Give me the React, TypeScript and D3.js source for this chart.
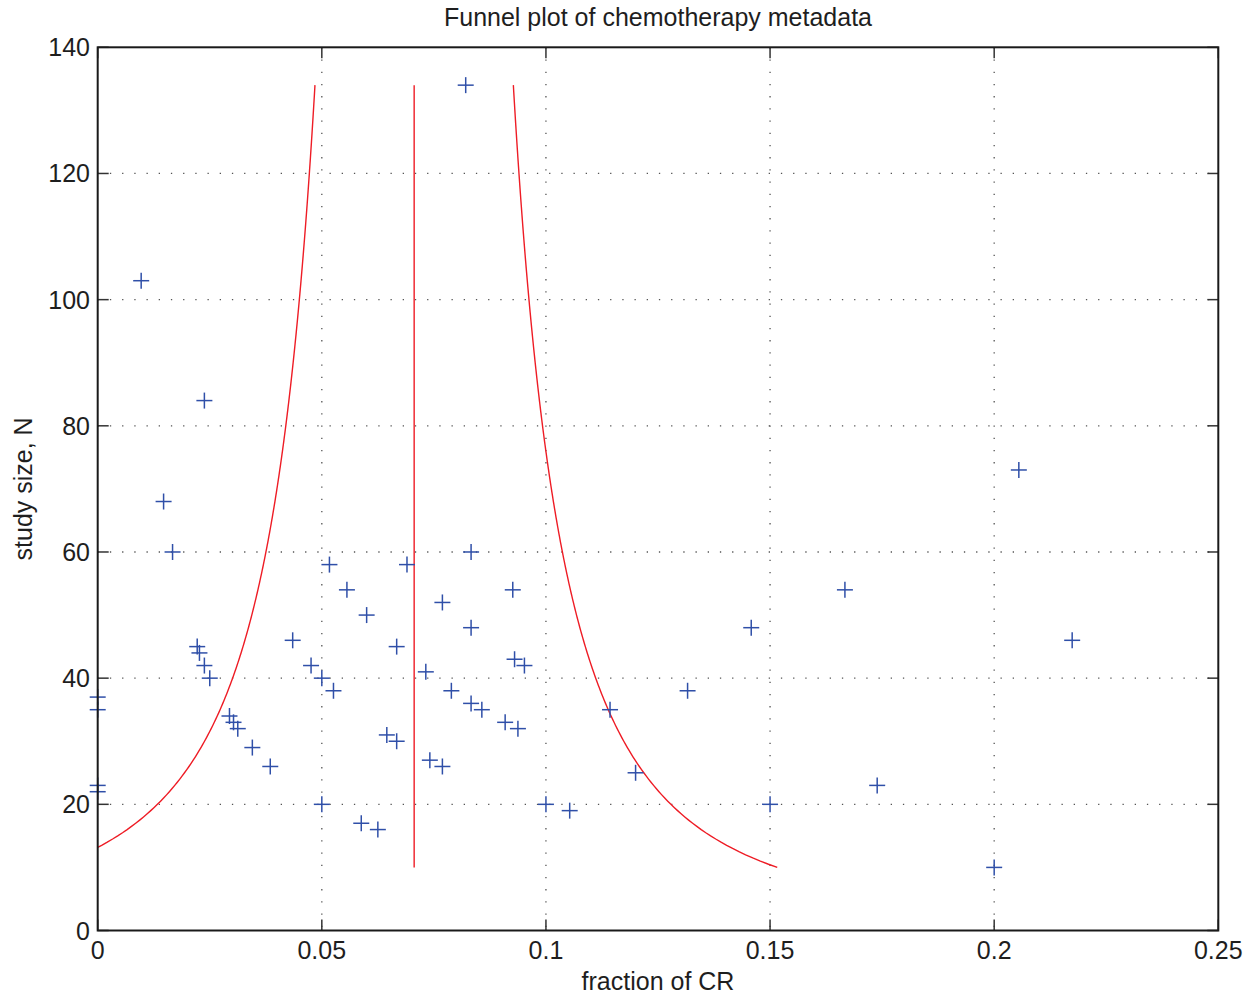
import React from "react";
import * as d3 from "d3";

// Observed studies: fraction of complete response (CR) and study size N
const fractionCR = [
  0.0821, 0.0097, 0.0238, 0.0147, 0.0167, 0.0222, 0.0227, 0.0238, 0.025,
  0, 0, 0, 0,
  0.0435, 0.0476, 0.05, 0.0526, 0.0517, 0.0556, 0.06, 0.0667, 0.069,
  0.0294, 0.0303, 0.03125, 0.0345, 0.0385, 0.05, 0.0588, 0.0625, 0.0645, 0.0667,
  0.0732, 0.0741, 0.0769, 0.0833, 0.0769, 0.0833, 0.0789, 0.0833, 0.0857,
  0.0926, 0.093, 0.0952, 0.0909, 0.09375, 0.1, 0.1053, 0.1143, 0.12, 0.1316,
  0.1458, 0.15, 0.1667, 0.1739, 0.2, 0.2055, 0.2174,
];
const studySize = [
  134, 103, 84, 68, 60, 45, 44, 42, 40,
  37, 35, 23, 22,
  46, 42, 40, 38, 58, 54, 50, 45, 58,
  34, 33, 32, 29, 26, 20, 17, 16, 31, 30,
  41, 27, 26, 60, 52, 48, 38, 36, 35,
  54, 43, 42, 33, 32, 20, 19, 35, 25, 38,
  48, 20, 54, 23, 10, 73, 46,
];

// Pooled proportion and range of study sizes for the funnel limits
const pooledFraction = 0.0706;
const funnelMinN = 10;
const funnelMaxN = 134;

const xTicks = [0, 0.05, 0.1, 0.15, 0.2, 0.25];
const xTickLabels = ["0", "0.05", "0.1", "0.15", "0.2", "0.25"];
const yTicks = [0, 20, 40, 60, 80, 100, 120, 140];

const W = 1253;
const H = 995;
const L = 97.7, R = 1218.3, T = 47.3, B = 930.5;
const FONT = "'Liberation Sans', Arial, Helvetica, sans-serif";
const TXT = "#1e1e1e";
const FS = 25;

export default function App() {
  const x = d3.scaleLinear().domain([0, 0.25]).range([L, R]);
  const y = d3.scaleLinear().domain([0, 140]).range([B, T]);

  const Ns = d3.range(funnelMinN, funnelMaxN + 0.001, 0.5);
  const se = (n: number) => Math.sqrt((pooledFraction * (1 - pooledFraction)) / n);
  const line = d3
    .line<[number, number]>()
    .x((d) => x(d[0]))
    .y((d) => y(d[1]));
  const upper = line(Ns.map((n) => [pooledFraction + se(n), n] as [number, number]));
  const lower = line(Ns.map((n) => [pooledFraction - se(n), n] as [number, number]));
  const center = line([
    [pooledFraction, funnelMinN],
    [pooledFraction, funnelMaxN],
  ]);

  const tick = 11;
  const grid = { stroke: "#555", strokeWidth: 1.3, strokeDasharray: "1.3,10.9" };
  const red = "#ee1c25";
  const blue = "#2f4fa8";
  const m = 8;

  return (
    <svg
      width={W}
      height={H}
      style={{ position: "absolute", left: 0, top: 0, background: "#fff" }}
      fontFamily={FONT}
    >
      <defs>
        <clipPath id="plotclip">
          <rect x={L} y={T} width={R - L} height={B - T} />
        </clipPath>
      </defs>
      {/* grid */}
      {xTicks.slice(1, -1).map((t) => (
        <line key={"gx" + t} x1={x(t)} x2={x(t)} y1={T} y2={B} {...grid} />
      ))}
      {yTicks.slice(1, -1).map((t) => (
        <line key={"gy" + t} x1={L} x2={R} y1={y(t)} y2={y(t)} {...grid} />
      ))}
      {/* ticks inward on all sides */}
      {xTicks.map((t) => (
        <g key={"tx" + t} stroke="#333" strokeWidth={1.5}>
          <line x1={x(t)} x2={x(t)} y1={B} y2={B - tick} />
          <line x1={x(t)} x2={x(t)} y1={T} y2={T + tick} />
        </g>
      ))}
      {yTicks.map((t) => (
        <g key={"ty" + t} stroke="#333" strokeWidth={1.5}>
          <line x1={L} x2={L + tick} y1={y(t)} y2={y(t)} />
          <line x1={R} x2={R - tick} y1={y(t)} y2={y(t)} />
        </g>
      ))}
      {/* funnel */}
      <g clipPath="url(#plotclip)" fill="none" stroke={red} strokeWidth={1.4}>
        <path d={upper || ""} />
        <path d={lower || ""} />
        <path d={center || ""} />
      </g>
      {/* studies */}
      <g stroke={blue} strokeWidth={1.5}>
        {fractionCR.map((f, i) => (
          <g key={i}>
            <line x1={x(f) - m} x2={x(f) + m} y1={y(studySize[i])} y2={y(studySize[i])} />
            <line x1={x(f)} x2={x(f)} y1={y(studySize[i]) - m} y2={y(studySize[i]) + m} />
          </g>
        ))}
      </g>
      {/* frame */}
      <rect x={L} y={T} width={R - L} height={B - T} fill="none" stroke="#1a1a1a" strokeWidth={2} />
      {/* tick labels */}
      {xTicks.map((t, i) => (
        <text key={"lx" + t} x={x(t)} y={959} textAnchor="middle" fontSize={FS} fill={TXT}>
          {xTickLabels[i]}
        </text>
      ))}
      {yTicks.map((t) => (
        <text key={"ly" + t} x={90} y={y(t)} dy="0.36em" textAnchor="end" fontSize={FS} fill={TXT}>
          {t}
        </text>
      ))}
      <text x={(L + R) / 2} y={26} textAnchor="middle" fontSize={FS} fill={TXT}>
        Funnel plot of chemotherapy metadata
      </text>
      <text x={(L + R) / 2} y={990} textAnchor="middle" fontSize={FS} fill={TXT}>
        fraction of CR
      </text>
      <text
        transform={`translate(32,${(T + B) / 2}) rotate(-90)`}
        textAnchor="middle"
        fontSize={FS}
        fill={TXT}
      >
        study size, N
      </text>
    </svg>
  );
}
